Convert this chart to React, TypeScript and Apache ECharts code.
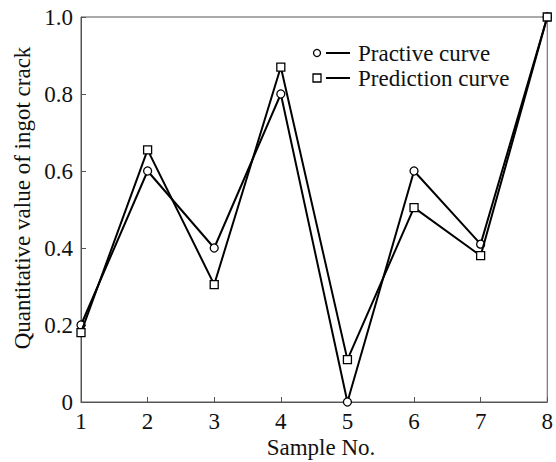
import React, { useEffect, useRef } from "react";
import * as echarts from "echarts";

const samples = [1, 2, 3, 4, 5, 6, 7, 8];
const practiveValues = [0.2, 0.6, 0.4, 0.8, 0, 0.6, 0.41, 1.0];
const predictionValues = [0.18, 0.655, 0.305, 0.87, 0.11, 0.505, 0.38, 1.0];
const seriesNames = ["Practive curve", "Prediction curve"];
const xTitle = "Sample No.";
const yTitle = "Quantitative value of ingot crack";

const FONT = "Liberation Serif";
const FS = 23;
const TEXT = "#111";

export default function App() {
  const ref = useRef<HTMLDivElement>(null);
  useEffect(() => {
    if (!ref.current) return;
    const chart = echarts.init(ref.current, undefined, { renderer: "svg" });
    const toPairs = (vals: number[]) => samples.map((s, i) => [s, vals[i]]);
    const legendY = [53, 78];
    const txt = (text: string, x: number, y: number, align: string, extra: any = {}) => ({
      type: "text",
      x,
      y,
      ...extra,
      style: {
        text,
        fontFamily: FONT,
        fontSize: FS,
        fill: TEXT,
        textAlign: align,
        textVerticalAlign: "middle",
      },
    });
    chart.setOption({
      animation: false,
      backgroundColor: "#fff",
      textStyle: { fontFamily: FONT },
      grid: {
        left: 81,
        right: 5,
        top: 17,
        bottom: 60,
        show: true,
        borderColor: "#555",
        borderWidth: 1,
        backgroundColor: "transparent",
      },
      xAxis: {
        type: "value",
        min: 1,
        max: 8,
        interval: 1,
        axisLine: { show: true, onZero: false, lineStyle: { color: "#555", width: 1 } },
        axisTick: { show: true, inside: true, length: 5, lineStyle: { color: "#555" } },
        splitLine: { show: false },
        axisLabel: { color: TEXT, fontFamily: FONT, fontSize: FS, margin: 8 },
      },
      yAxis: {
        type: "value",
        min: 0,
        max: 1,
        interval: 0.2,
        axisLine: { show: true, lineStyle: { color: "#555", width: 1 } },
        axisTick: { show: true, inside: true, length: 5, lineStyle: { color: "#555" } },
        splitLine: { show: false },
        axisLabel: {
          color: TEXT,
          fontFamily: FONT,
          fontSize: FS,
          margin: 8,
          formatter: (v: number) => (v === 0 ? "0" : v.toFixed(1)),
        },
      },
      series: [
        {
          name: seriesNames[0],
          type: "line",
          data: toPairs(practiveValues),
          symbol: "circle",
          symbolSize: 8,
          clip: false,
          lineStyle: { color: "#000", width: 2 },
          itemStyle: { color: "#fff", borderColor: "#000", borderWidth: 1.3 },
          z: 3,
        },
        {
          name: seriesNames[1],
          type: "line",
          data: toPairs(predictionValues),
          symbol: "rect",
          symbolSize: 8,
          clip: false,
          lineStyle: { color: "#000", width: 2 },
          itemStyle: { color: "#fff", borderColor: "#000", borderWidth: 1.3 },
          z: 4,
        },
      ],
      graphic: [
        {
          type: "circle",
          shape: { cx: 317, cy: legendY[0], r: 3.5 },
          style: { fill: "#fff", stroke: "#000", lineWidth: 1.3 },
        },
        {
          type: "line",
          shape: { x1: 326, y1: legendY[0], x2: 350, y2: legendY[0] },
          style: { stroke: "#000", lineWidth: 2 },
        },
        txt(seriesNames[0], 358, legendY[0], "left"),
        {
          type: "rect",
          shape: { x: 313, y: legendY[1] - 4, width: 8, height: 8 },
          style: { fill: "#fff", stroke: "#000", lineWidth: 1.3 },
        },
        {
          type: "line",
          shape: { x1: 326, y1: legendY[1], x2: 350, y2: legendY[1] },
          style: { stroke: "#000", lineWidth: 2 },
        },
        txt(seriesNames[1], 358, legendY[1], "left"),
        txt(xTitle, 321, 447, "center"),
        txt(yTitle, 22, 198, "center", { rotation: Math.PI / 2 }),
      ],
    });
    return () => chart.dispose();
  }, []);
  return <div ref={ref} style={{ width: 556, height: 462, position: "absolute", left: 0, top: 0 }} />;
}
